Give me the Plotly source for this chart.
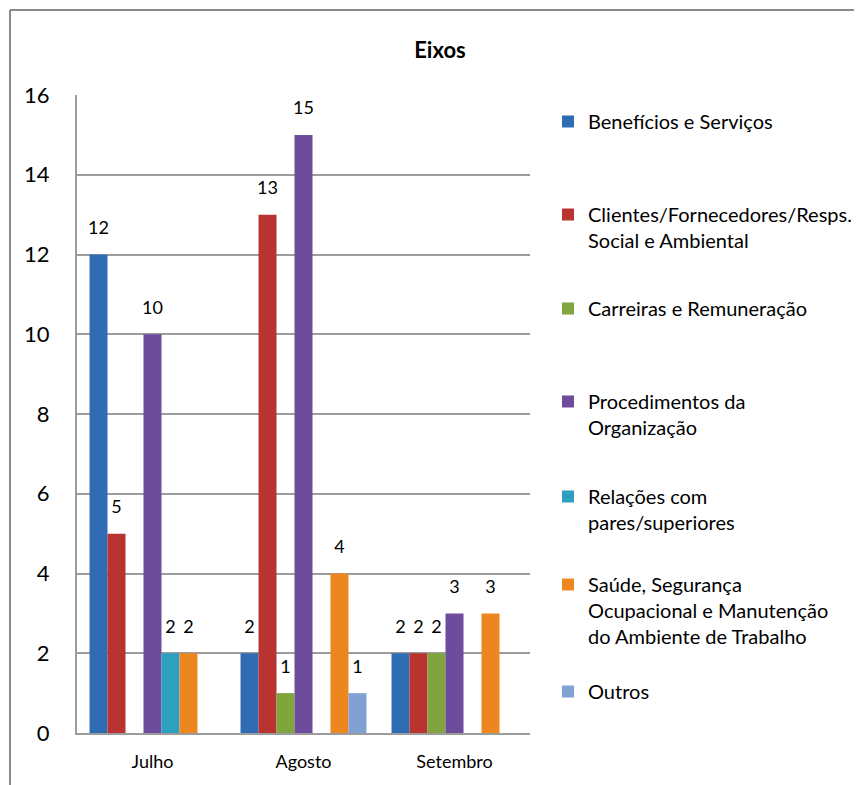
import plotly.graph_objects as go

# ---------------- data ----------------
months = ["Julho", "Agosto", "Setembro"]
series_names = [
    "Benefícios e Serviços",
    "Clientes/Fornecedores/Resps.<br>Social e Ambiental",
    "Carreiras e Remuneração",
    "Procedimentos da<br>Organização",
    "Relações com<br>pares/superiores",
    "Saúde, Segurança<br>Ocupacional e Manutenção<br>do Ambiente de Trabalho",
    "Outros",
]
beneficios = [12, 2, 2]
clientes = [5, 13, 2]
carreiras = [0, 1, 2]
procedimentos = [10, 15, 3]
relacoes = [2, 0, 0]
saude = [2, 4, 3]
outros = [0, 1, 0]
y_tick_values = [0, 2, 4, 6, 8, 10, 12, 14, 16]

series_values = [beneficios, clientes, carreiras, procedimentos, relacoes, saude, outros]

# ---------------- style ----------------
colors = ["#2F6CB4", "#B93330", "#7FA53C", "#6C4C9B", "#2CA0BE", "#EE8620", "#80A2D2"]
FONT = "Lato"
OFF = 8                      # page body margin in the browser
W, H = 862 - OFF, 785 - OFF  # figure size
# plot area in page pixels: x 77..530, y 95..733
L = 77 - OFF
R = 862 - 530
T = 95 - OFF
B = (785 - OFF) - (733 - OFF)
legend_first_line_px = [122, 215, 309, 402, 497, 585, 692]
legend_text_left_px = 589
GRID = "#9C9C9C"
BORDER = "#8A8A8A"

fig = go.Figure()

for i, (name, vals) in enumerate(zip(series_names, series_values)):
    leg = "legend" if i == 0 else f"legend{i + 1}"
    fig.add_trace(go.Bar(
        x=months, y=vals, name=name,
        marker=dict(color=colors[i], line=dict(width=0)),
        offsetgroup=str(i),
        legend=leg,
        hoverinfo="skip",
    ))

for i, vals in enumerate(series_values):
    fig.add_trace(go.Scatter(
        x=months, y=vals,
        text=[str(v) if v > 0 else "" for v in vals],
        mode="markers+text",
        textposition="top center",
        textfont=dict(family=FONT, size=18, color="black"),
        marker=dict(size=24, color="rgba(0,0,0,0)"),
        offsetgroup=str(i),
        showlegend=False,
        hoverinfo="skip",
        cliponaxis=False,
    ))

plot_w = W - L - R
plot_h = H - T - B


def px_x(px):
    return (px - OFF - L) / plot_w


def px_y(py):
    return (H - B - (py - OFF)) / plot_h


layout_legends = {}
for i, py in enumerate(legend_first_line_px):
    key = "legend" if i == 0 else f"legend{i + 1}"
    layout_legends[key] = dict(
        xref="container", yref="container",
        x=(legend_text_left_px - OFF - 41) / W,
        y=1 - (py - OFF - 20) / H,
        xanchor="left", yanchor="top",
        valign="top",
        font=dict(family=FONT, size=20, color="black"),
        bgcolor="rgba(0,0,0,0)",
        borderwidth=0,
    )

fig.update_layout(
    width=W, height=H,
    margin=dict(l=L, r=R, t=T, b=B, pad=0),
    paper_bgcolor="white", plot_bgcolor="white",
    font=dict(family=FONT, color="black"),
    barmode="group", bargap=0.166, bargroupgap=0,
    scattermode="group", scattergap=0.166,
    title=dict(
        text="<b>Eixos</b>",
        font=dict(family=FONT, size=22, color="black"),
        x=(440 - OFF) / W, xanchor="center", xref="container",
        y=1 - (50 - OFF) / H, yanchor="middle", yref="container",
    ),
    xaxis=dict(
        range=[-0.5, 2.5],
        showgrid=False,
        showline=True, linecolor=GRID, linewidth=2,
        ticks="",
        tickfont=dict(family=FONT, size=18, color="black"),
        ticklabelstandoff=11,
        fixedrange=True,
    ),
    yaxis=dict(
        range=[0, 16],
        tickvals=y_tick_values,
        showgrid=True, gridcolor=GRID, gridwidth=2,
        zeroline=False,
        showline=True, linecolor=GRID, linewidth=2,
        ticks="",
        tickfont=dict(family=FONT, size=22, color="black"),
        ticklabelstandoff=21,
        fixedrange=True,
    ),
    shapes=[
        dict(type="line", xref="paper", yref="paper",
             x0=px_x(10), x1=px_x(10), y0=px_y(10), y1=px_y(800),
             line=dict(color=BORDER, width=2)),
        dict(type="line", xref="paper", yref="paper",
             x0=px_x(10), x1=px_x(880), y0=px_y(10), y1=px_y(10),
             line=dict(color=BORDER, width=2)),
    ],
    **layout_legends,
)

fig.write_html("out.html")
